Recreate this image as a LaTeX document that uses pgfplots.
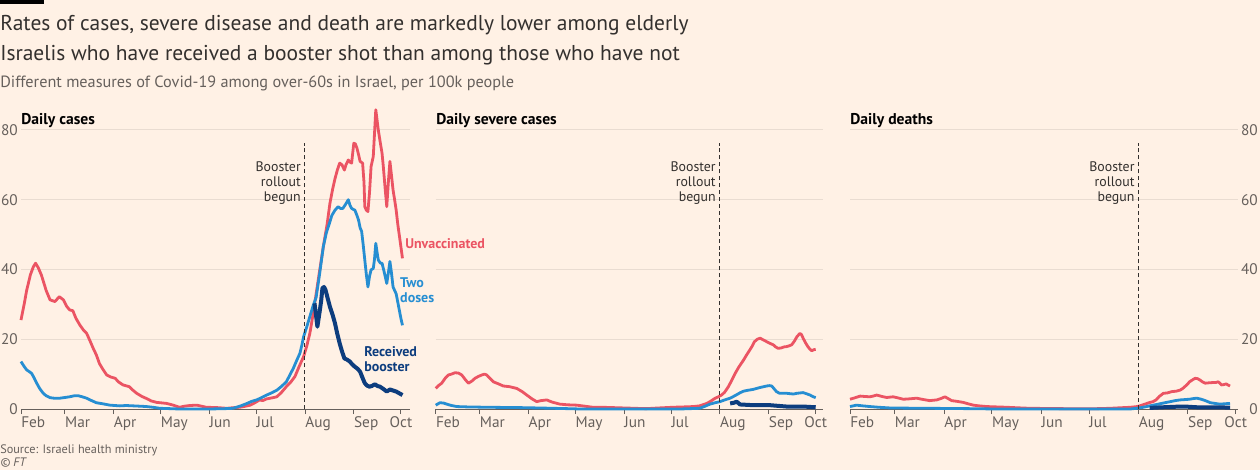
\documentclass[border=0pt]{standalone}
\usepackage{pgfplots}
\pgfplotsset{compat=1.18}
\usepackage{fontspec}
\setmainfont{PT Sans}
\definecolor{bg}{HTML}{FFF1E5}
\definecolor{unvax}{HTML}{EB5463}
\definecolor{twodose}{HTML}{268ED2}
\definecolor{booster}{HTML}{0D3D7E}
\definecolor{txt}{HTML}{33302E}
\definecolor{tickc}{HTML}{66605C}
\definecolor{gridc}{HTML}{E9DCD1}

\pgfplotsset{
  panel/.style={
    scale only axis, height=230.2pt, ymin=0, ymax=88, xmin=0,
    clip=false,
    axis x line*=bottom,
    y axis line style={draw=none},
    x axis line style={draw=tickc, line width=0.75pt},
    ytick={0,20,40,60,80}, ymajorgrids,
    grid style={draw=gridc, line width=0.75pt},
    xtick={0,28,59,89,120,150,181,212},
    xticklabels={Feb,Mar,Apr,May,Jun,Jul,Aug,Sep},
    extra x ticks={242}, extra x tick labels={Oct},
    extra x tick style={xticklabel style={anchor=north, xshift=0pt}},
    tick align=outside, major tick length=3.75pt,
    xtick style={draw=tickc, line width=0.75pt},
    ytick style={draw=none},
    tick label style={font=\fontsize{11.5}{13}\selectfont, text=tickc},
    xticklabel style={anchor=north west, inner sep=0pt, yshift=-1.5pt},
    /pgf/number format/assume math mode=true,
  },
  unv/.style={draw=unvax, line width=2.1pt, line join=round, no markers},
  two/.style={draw=twodose, line width=2.1pt, line join=round, no markers},
  boo/.style={draw=booster, line width=3pt, line join=round, no markers},
  roll/.style={draw=txt, line width=0.8pt, dash pattern=on 3pt off 2.2pt, no markers},
}
\newcommand{\rolltext}{\fontsize{10.4}{11.25}\selectfont}
\newcommand{\lbltext}{\fontsize{10.5}{10.9}\selectfont\bfseries}

\begin{document}
\begin{tikzpicture}
\path[use as bounding box] (0,0) rectangle (945pt,-352.5pt);
\fill[bg] (0,0) rectangle (945pt,-352.5pt);

% ---------------- Panel 1: Daily cases
\begin{axis}[panel, at={(15.75pt,-306.75pt)}, anchor=south west,
  width=291.75pt, xmax=247.8, axis y line*=left,
  yticklabel style={anchor=east, inner sep=0pt, xshift=1.5pt}]
\addplot[unv] coordinates {(0,25.5)(2,30)(3.6,34)(6,38.5)(7.9,40.8)(9.3,41.8)(11,40.5)(13,38.4)(15,35.5)(16,34)(18.5,31.3)(21.6,30.8)(24.4,32.2)(27,31.3)(29,29.5)(31,28.4)(33,28.2)(35,26)(37.6,24)(40,22.5)(41.8,21.7)(44,19.5)(46,17.4)(48,15.5)(50,13)(52,11.5)(54.6,9.75)(57,9.2)(60,8.8)(62,7.8)(65,6.9)(69,6.4)(71,5.5)(73.7,4.5)(77,3.6)(80,3)(83,2.3)(86.4,1.9)(92.8,1.6)(97,1.1)(101,0.5)(104,0.8)(107.6,1)(112,1.1)(115,0.8)(118,0.5)(125,0.4)(131,0.2)(136,0.4)(139.5,0.5)(143,0.8)(146,1.1)(149,1.8)(152,2.6)(154,2.4)(156.5,2.9)(160,3.2)(163,3.5)(166,4.8)(169,6.4)(172,7.8)(174.5,9.3)(177,12)(180,15)(182,18)(184,21.7)(186,27)(188,33)(190,39)(192.6,46.6)(195,53)(196.8,59)(198.5,63)(200,66)(201.5,68.5)(203,70.5)(204.5,70)(206,68.5)(207,70)(208.5,71.4)(209.5,70.8)(210.6,70.5)(212,76.2)(213,76)(214,74.8)(215,73)(216,71)(217.6,70.5)(218.5,65)(219,58)(220,57)(221,56.6)(222,62)(223,69.5)(224.4,72.4)(226,85.8)(227.6,80)(229,76)(230,73.3)(230.8,69.5)(232,63)(233,58)(234,65)(235,71)(236,67)(237,62.8)(238,60)(239,57)(240,53)(241.4,48.5)(243,43.2)};
\addplot[two] coordinates {(0,13.6)(2,12.2)(3.6,11.2)(5,10.8)(6.8,10.2)(8.5,8.8)(10,7.4)(12,5.8)(14.2,4.5)(16,3.8)(18.5,3.25)(21,3.1)(24.8,3.1)(28,3.3)(31,3.5)(34,3.8)(36.5,3.8)(39,3.5)(41.8,3.1)(45,2.4)(48,1.8)(52,1.5)(56.7,1.1)(63,0.9)(67,1)(71.5,0.9)(76,0.8)(80,0.7)(84,0.5)(88.5,0.2)(95,0.1)(101,0)(114,0)(120,0)(130,0.1)(135,0.2)(140,0.9)(144,1.6)(147,2.2)(150,2.6)(153,3.2)(156.5,4)(160,4.7)(163,5.4)(166,6.5)(169,7.8)(171,9.5)(173.5,11.7)(175.5,13.8)(177.7,16)(179,18.5)(180,20.7)(182,23.5)(184,26.5)(186,29.5)(188,32)(190,38)(192.6,46.6)(194.5,50.5)(196.8,53.7)(198,55.5)(200,57)(202,58)(203.5,57.5)(205,57.5)(206.5,58.5)(208.5,60)(209.5,58.5)(210.6,57.5)(212.7,57)(214,55.5)(215,54.2)(216,52)(217,50.9)(218,47)(219,42.7)(220,38.5)(221,35)(222,38)(223,39.9)(224.4,40.3)(225.2,43)(226,47.5)(226.8,45)(227.6,42.7)(229,41.8)(230,41.8)(231.5,39)(233,36)(234,39)(235,42.3)(236,39)(237,35)(238,34)(239,33)(240.5,29.5)(242,26)(243,24)};
\addplot[boo] coordinates {(187,30.3)(188.8,23.6)(190.4,28.4)(191.2,31)(192,34.6)(193,35)(194,34.1)(195.5,31.5)(196.8,29.3)(198.5,27)(200,24.6)(201.5,21.5)(203,18.8)(204.5,16.5)(206,14.5)(207.5,14.2)(209.5,13.6)(211,12.8)(212.7,12.1)(214.5,11.5)(216,10.7)(217.5,9)(219,7.4)(220.5,6.7)(222,6.4)(223.5,6.6)(225.5,7.1)(227,6.6)(228.7,6.4)(231,5.7)(233,5)(235,5.6)(237,5.3)(239,5)(241,4.5)(243,4)};
\addplot[roll] coordinates {(180.5,0)(180.5,76.3)};
\node[anchor=north east, align=right, inner sep=0pt, text=txt, font=\rolltext, xshift=-2.5pt] at (axis cs:180.5,71) {Booster\\rollout\\begun};
\node[anchor=west, inner sep=0pt, text=unvax, font=\lbltext] at (axis cs:244.6,47.3) {Unvaccinated};
\node[anchor=west, align=left, inner sep=0pt, text=twodose, font=\lbltext] at (axis cs:241.4,34) {Two\\doses};
\node[anchor=west, align=left, inner sep=0pt, text=booster, font=\lbltext] at (axis cs:218.5,14.3) {Received\\booster};
\end{axis}

% ---------------- Panel 2: Daily severe cases
\begin{axis}[panel, at={(326.8pt,-306.75pt)}, anchor=south west,
  width=290.5pt, xmax=246.7, axis y line*=left, yticklabels={}]
\addplot[unv] coordinates {(0,5.9)(2,6.8)(3.8,7.4)(6,8.8)(8,9.75)(10,10)(12.3,10.4)(14.5,10.3)(16.6,9.75)(18.7,8.5)(20.8,7.4)(23,8)(25,8.8)(27,9.3)(29.3,9.75)(31,10)(32.5,9.75)(34.5,8.8)(36.7,7.8)(40,7.2)(43,6.6)(47,6.4)(51.6,5.9)(55,5)(58,4)(61,3)(64.3,2.1)(67,2.4)(70.7,2.6)(74,2)(79,1.4)(84,1.2)(89.8,1.1)(95,0.8)(100,0.5)(106,0.5)(113,0.4)(120,0.3)(127,0.2)(134,0.1)(142,0.3)(151,0.5)(158,0.6)(164,0.7)(168,0.9)(172.6,1.6)(175,2.2)(178,3.1)(180,3.5)(182,4)(184,4.8)(186.4,6.4)(188.5,8.2)(190.7,10.2)(193,12)(196,14)(198,15.5)(200,16.9)(201.5,18)(203,19.3)(204.8,20)(206.6,20.3)(208.7,19.8)(210.8,19.3)(213,18.8)(215,18.4)(216.5,17.8)(218,17.4)(220,17.5)(221.8,17.8)(223.6,17.9)(225,18.1)(226.7,18.4)(228.5,19.5)(230,20.7)(231,21.2)(232,21.7)(233,21.3)(234,20.3)(235.5,19)(237,17.9)(238.2,17.2)(239.5,16.7)(240.8,17)(242,17.1)};
\addplot[two] coordinates {(0,1.1)(1.5,1.5)(2.8,1.8)(5,1.7)(7,1.4)(10,1)(13.4,0.7)(20,0.6)(32.5,0.5)(43,0.45)(53.7,0.4)(65,0.3)(75,0.2)(84,0.1)(92,0)(117,0)(140,0)(155.6,0)(162,0.1)(168,0.2)(171,0.7)(174.7,1.4)(178,1.8)(181,2.1)(184,2.6)(187.5,3.1)(190.5,3.8)(194,4.7)(196,5.1)(198,5.3)(202,5.6)(206,6.1)(210.8,6.6)(212.5,6.7)(214,6.6)(215.5,5.8)(217,5)(219,4.5)(221,4.5)(223.6,4.5)(225.5,4.4)(227.8,4.3)(230,4.5)(232,4.6)(234,4.7)(236,4.4)(238.4,4)(240,3.6)(242,3.25)};
\addplot[boo] coordinates {(187.5,1.6)(190,1.8)(191.7,2.1)(192.5,1.8)(193.8,1.3)(198,1.2)(202,1.1)(207,1.1)(212.7,1.1)(218,0.9)(223.6,0.7)(229,0.7)(234,0.7)(238,0.6)(242,0.5)};
\addplot[roll] coordinates {(180.6,0)(180.6,76.3)};
\node[anchor=north east, align=right, inner sep=0pt, text=txt, font=\rolltext, xshift=-2.5pt] at (axis cs:180.6,71) {Booster\\rollout\\begun};
\end{axis}

% ---------------- Panel 3: Daily deaths
\begin{axis}[panel, at={(637.5pt,-306.75pt)}, anchor=south west,
  width=291pt, xmax=243.4, axis y line*=right,
  yticklabel style={anchor=east, inner sep=0pt, xshift=11.25pt}]
\addplot[unv] coordinates {(0,2.8)(3,3.2)(6.3,3.7)(9,3.6)(12.5,3.5)(14.5,3.7)(16.7,4)(20,3.6)(23,3.3)(25,3.4)(27,3.5)(30,3.2)(33.5,2.8)(37,2.9)(41.8,3.1)(45,2.8)(50,2.4)(52,2.5)(54.4,2.6)(57,3)(59.6,3.5)(61.5,3)(63.8,2.4)(67,2.2)(71,1.9)(74,1.5)(77.4,1.1)(81,0.9)(85.8,0.7)(92,0.6)(98.3,0.5)(105,0.35)(113,0.2)(124,0.15)(134,0.1)(145,0.1)(155,0.1)(163,0.2)(171.5,0.4)(176,0.5)(180,0.7)(182.5,1)(185,1.4)(187.5,1.8)(190,2.1)(192,2.6)(194,3.6)(196.6,4.5)(199,4.6)(202,5)(204.5,5.1)(207,5.4)(208.5,5.8)(210,6.4)(211.5,7)(213,7.8)(215,8.4)(216.5,8.8)(218,8.7)(219.6,8.3)(221,7.8)(222.8,7.4)(225,7.5)(228,7.6)(229.5,7.6)(231,7.8)(232,7.4)(233,6.9)(234.5,7)(236,7.2)(237,6.9)(238.4,6.6)};
\addplot[two] coordinates {(0,0.7)(2,0.9)(4,1.1)(8,0.9)(12.5,0.7)(18,0.5)(25,0.3)(35,0.25)(50,0.2)(62,0.15)(75,0.1)(84,0.05)(92,0)(175.7,0)(180,0.2)(184,0.5)(188,0.9)(192.4,1.3)(196.5,1.7)(200.8,2.1)(204,2.4)(207,2.6)(210,2.7)(213,2.8)(215.5,3)(217.5,3.1)(219.5,2.9)(221.7,2.6)(224,2.2)(226,1.8)(229,1.6)(232,1.4)(235,1.5)(238.4,1.6)};
\addplot[boo] coordinates {(188,0.3)(192,0.4)(196.6,0.5)(202,0.6)(207,0.7)(212,0.65)(217.5,0.5)(223,0.5)(228,0.5)(233,0.45)(238.4,0.4)};
\addplot[roll] coordinates {(180.7,0)(180.7,76.3)};
\node[anchor=north east, align=right, inner sep=0pt, text=txt, font=\rolltext, xshift=-2.5pt] at (axis cs:180.7,71) {Booster\\rollout\\begun};
\end{axis}

% ---------------- Texts (px coordinates)
\begin{scope}[x=0.75pt, y=-0.75pt]
\fill[black] (0,0) rectangle (44,4);
\node[anchor=base west, inner sep=0pt, text=txt, font=\fontsize{16.1}{21}\selectfont] at (0,31) {Rates of cases, severe disease and death are markedly lower among elderly};
\node[anchor=base west, inner sep=0pt, text=txt, font=\fontsize{16.1}{21}\selectfont] at (0,61) {Israelis who have received a booster shot than among those who have not};
\node[anchor=base west, inner sep=0pt, text=tickc, font=\fontsize{12.2}{14}\selectfont] at (0,88) {Different measures of Covid-19 among over-60s in Israel, per 100k people};
\node[anchor=base west, inner sep=0pt, text=black, font=\fontsize{11.7}{13}\selectfont\bfseries] at (21,125) {Daily cases};
\node[anchor=base west, inner sep=0pt, text=black, font=\fontsize{11.7}{13}\selectfont\bfseries] at (436,125) {Daily severe cases};
\node[anchor=base west, inner sep=0pt, text=black, font=\fontsize{11.7}{13}\selectfont\bfseries] at (850,125) {Daily deaths};
\node[anchor=base west, inner sep=0pt, text=tickc, font=\fontsize{9.2}{10}\selectfont] at (0,453) {Source: Israeli health ministry};
\node[anchor=base west, inner sep=0pt, text=tickc, font=\fontsize{9.2}{10}\selectfont\itshape] at (0,466) {© FT};
\end{scope}
\end{tikzpicture}
\end{document}
